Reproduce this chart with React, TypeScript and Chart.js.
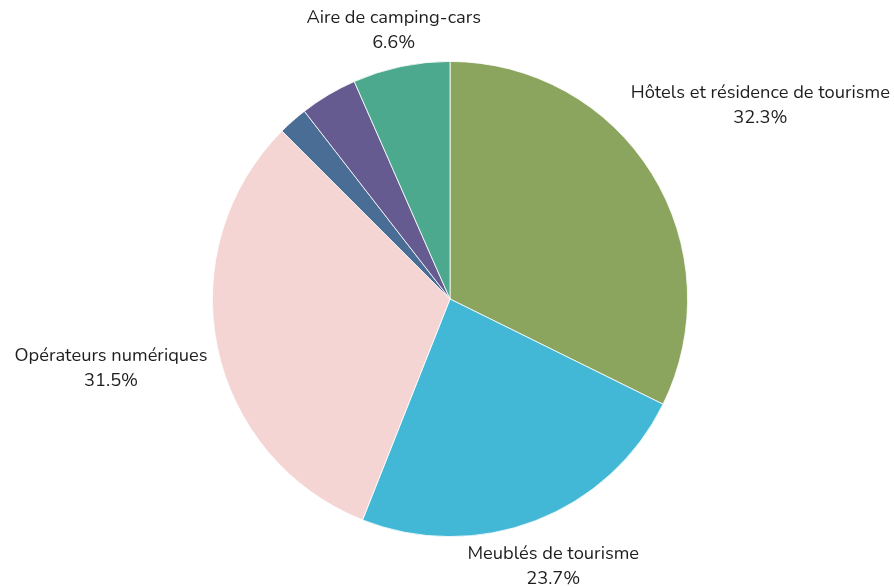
import React, { useEffect, useRef } from "react";
import { Chart, registerables } from "chart.js";

Chart.register(...registerables);

const categories = [
  "Hôtels et résidence de tourisme",
  "Meublés de tourisme",
  "Opérateurs numériques",
  "Chambres d'hôtes",
  "Autres hébergements",
  "Aire de camping-cars",
];
const shares = [32.3, 23.7, 31.5, 2.0, 3.9, 6.6];
const colors = ["#8ba55e", "#42b8d6", "#f5d5d3", "#4a6d96", "#655b91", "#4ca98e"];
const labelThreshold = 5;

const FONT = "18.3px Nunito, Lato, 'Open Sans', sans-serif";

const outsideLabels = {
  id: "outsideLabels",
  afterDatasetsDraw(chart: any) {
    const ctx = chart.ctx;
    const meta = chart.getDatasetMeta(0);
    ctx.save();
    ctx.font = FONT;
    ctx.fillStyle = "#1e1e1e";
    ctx.textAlign = "center";
    ctx.textBaseline = "middle";
    const lineH = 25;
    meta.data.forEach((arc: any, i: number) => {
      const v = shares[i];
      if (v < labelThreshold) return;
      const { x, y, startAngle, endAngle, outerRadius } = arc.getProps(
        ["x", "y", "startAngle", "endAngle", "outerRadius"],
        true
      );
      const mid = (startAngle + endAngle) / 2;
      const l1 = categories[i];
      const l2 = v.toFixed(1) + "%";
      const w = Math.max(ctx.measureText(l1).width, ctx.measureText(l2).width);
      const h = lineH * 2;
      const c = Math.cos(mid);
      const s = Math.sin(mid);
      const d = outerRadius + Math.abs(c) * (w / 2 + 11) + Math.abs(s) * (h / 2 - 9);
      const cx = x + c * d;
      const cy = y + s * d;
      ctx.fillText(l1, cx, cy - lineH / 2);
      ctx.fillText(l2, cx, cy + lineH / 2);
    });
    ctx.restore();
  },
};

export default function App() {
  const ref = useRef<HTMLCanvasElement>(null);
  useEffect(() => {
    document.body.style.margin = "0";
    const chart = new Chart(ref.current!, {
      type: "pie",
      data: {
        labels: categories,
        datasets: [
          {
            data: shares,
            backgroundColor: colors,
            borderColor: "#ffffff",
            borderWidth: 0.8,
          },
        ],
      },
      options: {
        animation: false,
        responsive: false,
        maintainAspectRatio: false,
        layout: { padding: { top: 61, bottom: 50, left: 212, right: 206 } },
        plugins: {
          legend: { display: false },
          tooltip: { enabled: false },
        },
      },
      plugins: [outsideLabels],
    });
    return () => chart.destroy();
  }, []);
  return (
    <div style={{ width: 894, height: 587, background: "#ffffff" }}>
      <canvas ref={ref} width={894} height={587} />
    </div>
  );
}
